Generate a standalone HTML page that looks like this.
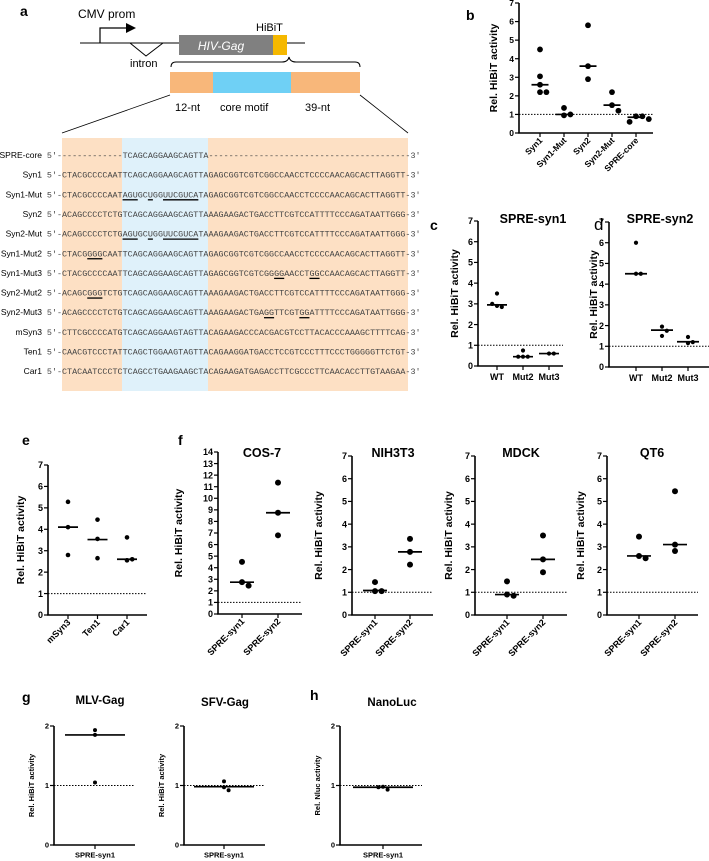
<!DOCTYPE html>
<html><head><meta charset="utf-8"><style>
body{margin:0;background:#fff}
svg{display:block}
.lab{font-family:"Liberation Sans",Arial,sans-serif;font-weight:bold;fill:#000}
.seq{font-family:"Liberation Mono",monospace;font-size:8.4px;fill:#444}
.nm{font-family:"Liberation Sans",Arial,sans-serif;font-size:8.5px;fill:#000;text-anchor:end}
</style></head><body>
<svg id="fig" width="709" height="861" viewBox="0 0 709 861" xmlns="http://www.w3.org/2000/svg">
<g>
<text class="lab" x="20" y="16" font-size="14">a</text>
<text x="78" y="18" font-family="Liberation Sans,Arial,sans-serif" font-size="12">CMV prom</text>
<path d="M100,43 V28 H128" fill="none" stroke="#000" stroke-width="1.2"/>
<polygon points="126,23 136,28 126,33" fill="#000"/>
<line x1="80" y1="43" x2="305" y2="43" stroke="#000" stroke-width="1"/>
<polyline points="130,43 146,56 163,43" fill="none" stroke="#000" stroke-width="1"/>
<text x="130" y="67" font-family="Liberation Sans,Arial,sans-serif" font-size="11">intron</text>
<rect x="179" y="35" width="94" height="20" fill="#808080"/>
<text x="221" y="50" font-family="Liberation Sans,Arial,sans-serif" font-size="12" font-style="italic" fill="#fff" text-anchor="middle">HIV-Gag</text>
<rect x="273" y="35" width="14" height="20" fill="#f5b800"/>
<text x="256" y="31" font-family="Liberation Sans,Arial,sans-serif" font-size="11">HiBiT</text>
<path d="M171,67 Q171,62 176,62 L282,62 Q288,62 289,57 Q290,62 296,62 L355,62 Q360,62 360,67" fill="none" stroke="#000" stroke-width="1"/>
<rect x="170" y="72" width="43" height="21" fill="#f8b77a"/>
<rect x="213" y="72" width="78" height="21" fill="#6fd0f5"/>
<rect x="291" y="72" width="69" height="21" fill="#f8b77a"/>
<text x="175" y="111" font-family="Liberation Sans,Arial,sans-serif" font-size="11">12-nt</text>
<text x="220" y="111" font-family="Liberation Sans,Arial,sans-serif" font-size="11">core motif</text>
<text x="305" y="111" font-family="Liberation Sans,Arial,sans-serif" font-size="11">39-nt</text>
<line x1="170" y1="95" x2="62" y2="133" stroke="#000" stroke-width="0.8"/>
<line x1="360" y1="95" x2="408" y2="133" stroke="#000" stroke-width="0.8"/>
<rect x="62" y="138" width="60" height="253" fill="#fde0c4"/>
<rect x="122" y="138" width="86" height="253" fill="#dff1fa"/>
<rect x="208" y="138" width="200" height="253" fill="#fde0c4"/>
</g>
<g id="seqs"></g>
<g id="charts"></g>
</svg>
<script>
const seqNames=["SPRE-core","Syn1","Syn1-Mut","Syn2","Syn2-Mut","Syn1-Mut2","Syn1-Mut3","Syn2-Mut2","Syn2-Mut3","mSyn3","Ten1","Car1"];
const core="TCAGCAGGAAGCAGTTA", t1="GAGCGGTCGTCGGCCAACCTCCCCAACAGCACTTAGGTT", t2="AAGAAGACTGACCTTCGTCCATTTTCCCAGATAATTGGG";
const seqs=["------------"+core+"-".repeat(39),
"CTACGCCCCAAT"+core+t1,
"CTACGCCCCAAT"+"AGUGCUGGUUCGUCATA"+t1,
"ACAGCCCCTCTG"+core+t2,
"ACAGCCCCTCTG"+"AGUGCUGGUUCGUCATA"+t2,
"CTACGGGGCAAT"+core+t1,
"CTACGCCCCAAT"+core+"GAGCGGTCGTCGGGGAACCTGGCCAACAGCACTTAGGTT",
"ACAGCGGGTCTG"+core+t2,
"ACAGCCCCTCTG"+core+"AAGAAGACTGAGGTTCGTGGATTTTCCCAGATAATTGGG",
"CTTCGCCCCATG"+"TCAGCAGGAAGTAGTTA"+"CAGAAGACCCACGACGTCCTTACACCCAAAGCTTTTCAG",
"CAACGTCCCTAT"+"TCAGCTGGAAGTAGTTA"+"CAGAAGGATGACCTCCGTCCCTTTCCCTGGGGGTTCTGT",
"CTACAATCCCTC"+"TCAGCCTGAAGAAGCTA"+"CAGAAGATGAGACCTTCGCCCTTCAACACCTTGTAAGAA"];
const underl=[[],[],[[12,15],[17,18],[20,27]],[],[[12,15],[17,18],[20,27]],[[5,8]],[[42,44],[49,51]],[[5,8]],[[40,42],[47,49]],[],[],[]];
const NS="http://www.w3.org/2000/svg";
function mk(tag,attrs,parent){const e=document.createElementNS(NS,tag);for(const k in attrs)e.setAttribute(k,attrs[k]);parent.appendChild(e);return e;}
const sg=document.getElementById('seqs');const CW=5.05;
seqNames.forEach((n,i)=>{const y=158+i*19.65;
 const t=mk('text',{class:'nm',x:42,y:y},sg);t.textContent=n;
 
 
 const s=mk('text',{class:'seq',x:62-3*CW,y:y,textLength:74*CW,lengthAdjust:'spacing'},sg);s.textContent="5'-"+seqs[i]+"-3'";
 
 
 underl[i].forEach(u=>{mk('line',{x1:62+u[0]*CW,x2:62+u[1]*CW,y1:y+2.5,y2:y+2.5,stroke:'#000','stroke-width':1.3},sg);});
});

// chart data
const bCats=["Syn1","Syn1-Mut","Syn2","Syn2-Mut","SPRE-core"];
const bVals=[[4.5,3.05,2.6,2.2,2.2],[1.35,0.95,1.0],[5.8,3.6,2.9],[2.2,1.5,1.2],[0.9,0.9,0.6,0.75]];
const bMed=[2.6,1.0,3.6,1.5,0.85];
const cCats=["WT","Mut2","Mut3"];
const cVals=[[3.5,2.9,2.85,3.0],[0.75,0.45,0.45,0.45],[0.6,0.6]];
const cMed=[2.95,0.45,0.6];
const dCats=["WT","Mut2","Mut3"];
const dVals=[[6.0,4.5,4.5],[1.95,1.5,1.75],[1.45,1.15,1.2]];
const dMed=[4.5,1.78,1.22];
const eCats=["mSyn3","Ten1","Car1"];
const eVals=[[5.28,4.1,2.8],[4.45,3.55,2.65],[3.62,2.55,2.6]];
const eMed=[4.1,3.52,2.6];
const fCats=["SPRE-syn1","SPRE-syn2"];
const cosVals=[[4.5,2.75,2.45],[11.35,8.75,6.8]];
const cosMed=[2.75,8.75];
const nihVals=[[1.45,1.05,1.05],[3.35,2.78,2.22]];
const nihMed=[1.08,2.78];
const mdckVals=[[1.48,0.9,0.85],[3.5,2.45,1.88]];
const mdckMed=[0.9,2.45];
const qt6Vals=[[3.45,2.6,2.5],[5.45,3.1,2.82]];
const qt6Med=[2.6,3.1];
const gCats=["SPRE-syn1"];
const mlvVals=[[1.93,1.85,1.05]];
const mlvMed=[1.85];
const sfvVals=[[1.07,0.97,0.92]];
const sfvMed=[0.98];
const nlVals=[[0.98,0.93,0.97]];
const nlMed=[0.97];
const bTicks=[0,1,2,3,4,5,6,7];
const cosTicks=[0,1,2,3,4,5,6,7,8,9,10,11,12,13,14];
const gTicks=[0,1,2];

const root=document.getElementById('charts');
function panel(o){
 const g=mk('g',{},root);
 
 
 const ymax=o.ticks[o.ticks.length-1];
 const Y=v=>o.y0-(v/ymax)*(o.y0-o.yTop);
 const X=i=>o.xs[0]+i*(o.xs[1]-o.xs[0]);
 const fs=o.fs||9;
 const dl=mk('line',{x1:o.ax,x2:o.xEnd,y1:Y(1),y2:Y(1),stroke:'#000','stroke-width':1,'stroke-dasharray':'1.5,1.5'},g);
 
 
 mk('line',{x1:o.ax,x2:o.ax,y1:o.yTop,y2:o.y0,stroke:'#000','stroke-width':1.6},g);
 mk('line',{x1:o.ax-0.8,x2:o.xEnd,y1:o.y0,y2:o.y0,stroke:'#000','stroke-width':1.6},g);
 o.ticks.forEach(t=>{const y=Y(t);
  mk('line',{x1:o.ax-4,x2:o.ax,y1:y,y2:y,stroke:'#000','stroke-width':1.2},g);
  const tl=mk('text',{class:'lab','font-size':fs,x:o.ax-5,y:y+fs*0.36,'text-anchor':'end'},g);tl.textContent=t;
  
  
 });
 const yl=mk('text',{class:'lab','font-size':o.ylfs||10.5,transform:`translate(${o.ylx},${(o.y0+o.yTop)/2}) rotate(-90)`,'text-anchor':'middle'},g);
 yl.textContent=o.ylabel||"Rel. HiBiT activity";
 
 
 if(o.title){const tt=mk('text',{class:'lab','font-size':o.tfs||12.5,x:o.tx,y:o.ty,'text-anchor':'middle'},g);tt.textContent=o.title;
  
  }
 o.cats.forEach((c,i)=>{const x=X(i);
  mk('line',{x1:x,x2:x,y1:o.y0,y2:o.y0+4,stroke:'#000','stroke-width':1.2},g);
  let lt;
  if(o.rot){lt=mk('text',{class:'lab','font-size':fs,'text-anchor':'end',transform:`translate(${x+3},${o.y0+8}) rotate(-45)`},g);}
  else{lt=mk('text',{class:'lab','font-size':fs,'text-anchor':'middle',x:x,y:o.y0+fs+5},g);}
  lt.textContent=c;
  
  
  const placed=[];const r=o.r;
  o.vals[i].forEach(v=>{const y=Y(v);let off=0;const cands=[0,1,-1,2,-2,3,-3];
   for(const k of cands){off=k*(2*r+0.6);if(!placed.some(p=>Math.abs(p[0]-off)<2*r&&Math.abs(p[1]-y)<2*r))break;}
   placed.push([off,y]);
   const d=mk('circle',{cx:x+off,cy:y,r:r,fill:'#000'},g);
   
   
  });
  const m=mk('line',{x1:x-o.mw/2,x2:x+o.mw/2,y1:Y(o.med[i]),y2:Y(o.med[i]),stroke:'#000','stroke-width':1.7},g);
  
  
 });
}
panel({name:'panel-b',cats:bCats,vals:bVals,med:bMed,ticks:bTicks,ax:519,xEnd:653,y0:133,yTop:3,xs:[540,564],r:2.9,mw:17,rot:true,ylx:497,fs:8.5});
panel({name:'panel-c',cats:cCats,vals:cVals,med:cMed,ticks:bTicks,ax:478,xEnd:563,y0:366,yTop:221,xs:[497,523],r:2.1,mw:20,ylx:458,title:'SPRE-syn1',tx:533,ty:223});
panel({name:'panel-d',cats:dCats,vals:dVals,med:dMed,ticks:bTicks,ax:609,xEnd:709,y0:367,yTop:222,xs:[636,662],r:2.1,mw:22,ylx:597,title:'SPRE-syn2',tx:660,ty:223});
panel({name:'panel-e',cats:eCats,vals:eVals,med:eMed,ticks:bTicks,ax:48,xEnd:147,y0:615,yTop:465,xs:[68,97.5],r:2.3,mw:20,rot:true,ylx:24});
panel({name:'panel-f-cos7',cats:fCats,vals:cosVals,med:cosMed,ticks:cosTicks,ax:218,xEnd:302,y0:614,yTop:452,xs:[242,278],r:3,mw:24,rot:true,ylx:182,title:'COS-7',tx:262,ty:457});
panel({name:'panel-f-nih3t3',cats:fCats,vals:nihVals,med:nihMed,ticks:bTicks,ax:352,xEnd:433,y0:615,yTop:456,xs:[375,410],r:3,mw:24,rot:true,ylx:322,title:'NIH3T3',tx:393,ty:457});
panel({name:'panel-f-mdck',cats:fCats,vals:mdckVals,med:mdckMed,ticks:bTicks,ax:475,xEnd:567,y0:615,yTop:456,xs:[507,543],r:3,mw:24,rot:true,ylx:452,title:'MDCK',tx:521,ty:457});
panel({name:'panel-f-qt6',cats:fCats,vals:qt6Vals,med:qt6Med,ticks:bTicks,ax:607,xEnd:698,y0:615,yTop:456,xs:[639,675],r:3,mw:24,rot:true,ylx:584,title:'QT6',tx:652,ty:457});
panel({name:'panel-g-mlv',cats:gCats,vals:mlvVals,med:mlvMed,ticks:gTicks,ax:54,xEnd:135,y0:845,yTop:726,xs:[95,0],r:2,mw:60,ylx:34,ylfs:7.5,fs:7.5,title:'MLV-Gag',tx:100,ty:704,tfs:11.5});
panel({name:'panel-g-sfv',cats:gCats,vals:sfvVals,med:sfvMed,ticks:gTicks,ax:184,xEnd:265,y0:845,yTop:726,xs:[224,0],r:2,mw:60,ylx:164,ylfs:7.5,fs:7.5,title:'SFV-Gag',tx:225,ty:706,tfs:11.5});
panel({name:'panel-h-nanoluc',cats:gCats,vals:nlVals,med:nlMed,ticks:gTicks,ax:340,xEnd:422,y0:845,yTop:726,xs:[383,0],r:2,mw:60,ylx:320,ylfs:7.5,fs:7.5,ylabel:'Rel. Nluc activity',title:'NanoLuc',tx:392,ty:706,tfs:11.5});
[['b',466,20,'bold'],['c',430,230,'bold'],['d',594,230,'normal'],['e',22,445,'bold'],['f',178,445,'bold'],['g',22,702,'bold'],['h',310,700,'bold']].forEach(l=>{
 const t=mk('text',{class:'lab','font-size':l[3]==='normal'?17:14,'font-weight':l[3],style:'font-weight:'+l[3],x:l[1],y:l[2]},root);t.textContent=l[0];
 
 
});
</script>
</body></html>
